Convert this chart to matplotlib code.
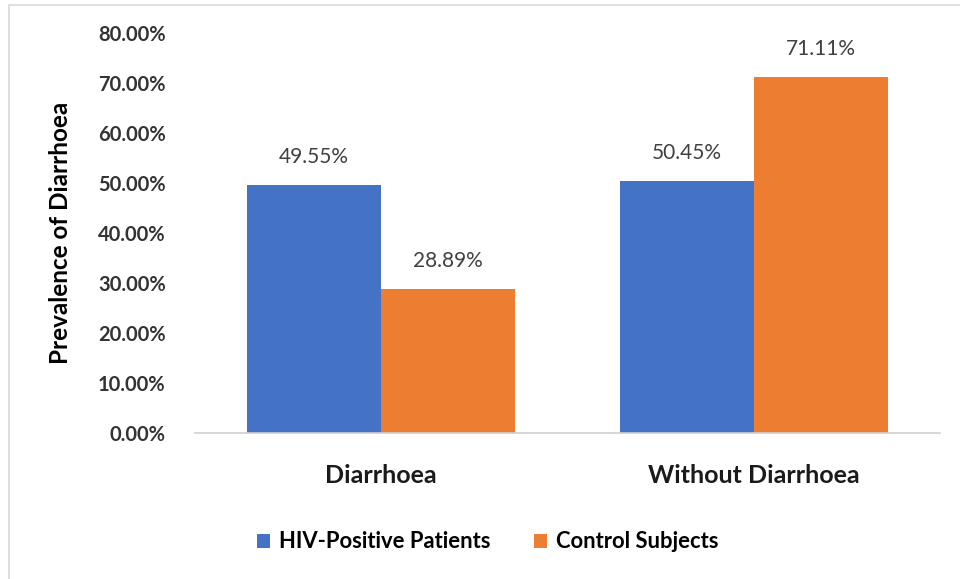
import matplotlib
matplotlib.use('Agg')
import matplotlib.pyplot as plt
import numpy as np
from matplotlib.patches import Rectangle

plt.rcParams['font.family'] = ['Lato', 'DejaVu Sans']

categories = ["Diarrhoea", "Without Diarrhoea"]
series_names = ["HIV-Positive Patients", "Control Subjects"]
hiv_values = [49.55, 50.45]
control_values = [28.89, 71.11]
yticks = [0, 10, 20, 30, 40, 50, 60, 70, 80]

blue = '#4472C4'
orange = '#ED7D31'

fig = plt.figure(figsize=(9.6, 5.79), dpi=100)
ax = fig.add_axes([0.203, 0.252, 0.776, 0.691])

x = np.arange(len(categories))
w = 0.36
b1 = ax.bar(x - w / 2, hiv_values, w, color=blue, label=series_names[0])
b2 = ax.bar(x + w / 2, control_values, w, color=orange, label=series_names[1])

for bars, vals in [(b1, hiv_values), (b2, control_values)]:
    for rect, v in zip(bars, vals):
        ax.text(rect.get_x() + rect.get_width() / 2, v + 3.6, f"{v:.2f}%",
                ha='center', va='bottom', fontsize=15, color='#404040')

ax.set_xlim(-0.5, 1.5)
ax.set_ylim(0, 80)
ax.set_yticks(yticks)
ax.set_yticklabels([f"{t:.2f}%" for t in yticks], fontsize=14.5, fontweight='bold', color='#333333')
ax.set_xticks(x)
ax.set_xticklabels(categories, fontsize=18, fontweight='bold', color='#1a1a1a')
ax.tick_params(axis='both', length=0)
ax.tick_params(axis='y', pad=21)
ax.tick_params(axis='x', pad=22)

for s in ['top', 'right', 'left']:
    ax.spines[s].set_visible(False)
ax.spines['bottom'].set_color('#d0d0d0')
ax.spines['bottom'].set_linewidth(1.2)

ax.set_ylabel("Prevalence of Diarrhoea", fontsize=17.5, fontweight='bold', labelpad=19)

leg = fig.legend(handles=[b1, b2], labels=series_names, loc='center',
                 bbox_to_anchor=(0.508, 0.064), ncol=2, frameon=False,
                 prop={'size': 15.8, 'weight': 'bold'}, handlelength=0.6,
                 handleheight=0.6, columnspacing=2.0, handletextpad=0.4)

# chart border (top and left visible)
fig.add_artist(Rectangle((9 / 960, -0.01), 1.0, 1 - 5 / 579 + 0.01, transform=fig.transFigure,
                         fill=False, edgecolor='#d9d9d9', linewidth=1.2))

fig.savefig('out.png', dpi=100, facecolor='white')
